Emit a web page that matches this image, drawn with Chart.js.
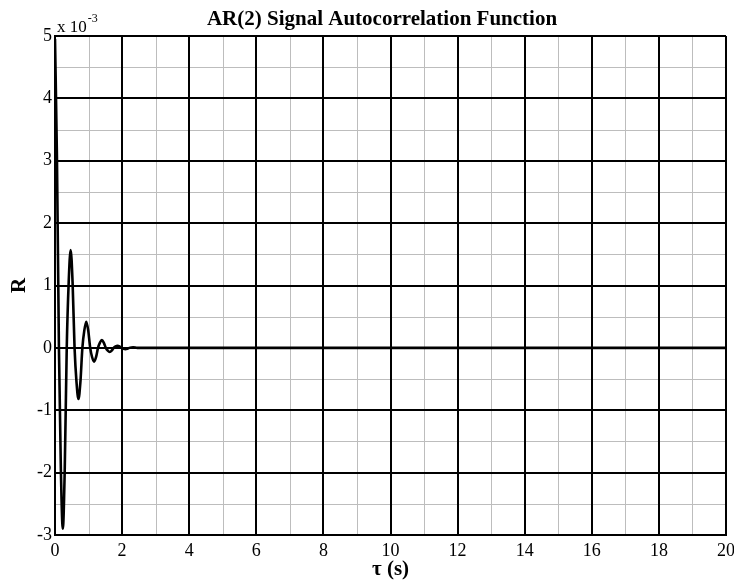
<!DOCTYPE html>
<html>
<head>
<meta charset="utf-8">
<script src="https://cdn.jsdelivr.net/npm/chart.js@4/dist/chart.umd.min.js"></script>
<style>
  html, body { margin: 0; padding: 0; background: #fff; }
  #wrap { width: 734px; height: 585px; }
</style>
</head>
<body>
<div id="wrap"><canvas id="acfChart" width="734" height="585"></canvas></div>
<script>
// lag (s) and autocorrelation R (x 10^-3)
const lags = [
  0.000, 0.058, 0.117, 0.175, 0.233, 0.291, 0.350, 0.408, 0.466, 0.524,
  0.583, 0.641, 0.699, 0.757, 0.816, 0.874, 0.932, 0.990, 1.049, 1.107,
  1.165, 1.223, 1.282, 1.340, 1.398, 1.456, 1.515, 1.573, 1.631, 1.689,
  1.748, 1.806, 1.864, 1.922, 1.981, 2.039, 2.097, 2.155, 2.214, 2.330,
  2.450, 20.0
];
const acf = [
  4.95, 3.05, 0, -1.95, -2.90, -1.93, 0, 1.05, 1.57, 1.05,
  0, -0.55, -0.82, -0.55, 0, 0.28, 0.42, 0.28, 0, -0.15,
  -0.22, -0.15, 0, 0.085, 0.125, 0.08, 0, -0.045, -0.065, -0.045,
  0, 0.025, 0.035, 0.025, 0, -0.014, -0.02, -0.014, 0, 0.01,
  0, 0
];

// axis ticks
const xMajor = [0, 2, 4, 6, 8, 10, 12, 14, 16, 18, 20];
const xMinor = [1, 3, 5, 7, 9, 11, 13, 15, 17, 19];
const yMajor = [-3, -2, -1, 0, 1, 2, 3, 4, 5];
const yMinor = [-2.5, -1.5, -0.5, 0.5, 1.5, 2.5, 3.5, 4.5];

const titleText = 'AR(2) Signal Autocorrelation Function';
const xLabel = '\u03c4 (s)';
const yLabel = 'R';

const serif = '"Liberation Serif", "Times New Roman", serif';

// grey minor grid under everything else
const minorGrid = {
  id: 'minorGrid',
  beforeDraw(chart) {
    const { ctx, chartArea: a, scales: { x, y } } = chart;
    ctx.save();
    ctx.strokeStyle = '#bdbdbd';
    ctx.lineWidth = 1;
    ctx.beginPath();
    xMinor.forEach(v => {
      const px = Math.round(x.getPixelForValue(v)) + 0.5;
      ctx.moveTo(px, a.top); ctx.lineTo(px, a.bottom);
    });
    yMinor.forEach(v => {
      const py = Math.round(y.getPixelForValue(v)) + 0.5;
      ctx.moveTo(a.left, py); ctx.lineTo(a.right, py);
    });
    ctx.stroke();
    ctx.restore();
  }
};

// title and the exponent label above the y axis
const headings = {
  id: 'headings',
  afterDraw(chart) {
    const { ctx, chartArea: a } = chart;
    ctx.save();
    ctx.fillStyle = '#000';
    ctx.textBaseline = 'alphabetic';
    ctx.textAlign = 'center';
    ctx.font = 'bold 21px ' + serif;
    ctx.fillText(titleText, 382, 25);
    ctx.textAlign = 'left';
    ctx.font = '17px ' + serif;
    const base = 'x 10';
    ctx.fillText(base, a.left + 2, 32);
    const w = ctx.measureText(base).width;
    ctx.font = '12px ' + serif;
    ctx.fillText('-3', a.left + 3 + w, 22);
    ctx.restore();
  }
};

new Chart(document.getElementById('acfChart'), {
  type: 'line',
  data: {
    datasets: [{
      data: lags.map((t, i) => ({ x: t, y: acf[i] })),
      borderColor: '#000',
      borderWidth: 2.6,
      pointRadius: 0,
      cubicInterpolationMode: 'monotone',
      fill: false
    }]
  },
  plugins: [minorGrid, headings],
  options: {
    responsive: false,
    animation: false,
    layout: { padding: { top: 36, right: 8, left: 0, bottom: 0 } },
    plugins: { legend: { display: false }, tooltip: { enabled: false } },
    scales: {
      x: {
        type: 'linear',
        min: 0, max: 20,
        afterBuildTicks: s => { s.ticks = xMajor.map(v => ({ value: v })); },
        afterFit: s => { s.height = 50; s.paddingLeft = 0; s.paddingRight = 0; },
        grid: { color: '#000', lineWidth: 2, drawTicks: false },
        border: { color: '#000', width: 2 },
        ticks: { color: '#000', padding: 5, maxRotation: 0, font: { family: serif, size: 18 } },
        title: {
          display: true, text: xLabel, color: '#000',
          padding: { top: 0, bottom: 3 },
          font: { family: serif, size: 21, weight: 'bold' }
        }
      },
      y: {
        type: 'linear',
        min: -3, max: 5,
        afterBuildTicks: s => { s.ticks = yMajor.map(v => ({ value: v })); },
        afterFit: s => { s.width = 55; s.paddingTop = 0; s.paddingBottom = 0; },
        grid: { color: '#000', lineWidth: 2, drawTicks: false },
        border: { color: '#000', width: 2 },
        ticks: { color: '#000', padding: 3, font: { family: serif, size: 18 } },
        title: {
          display: true, text: yLabel, color: '#000',
          padding: { top: 7, bottom: 0 },
          font: { family: serif, size: 21, weight: 'bold' }
        }
      }
    }
  }
});
</script>
</body>
</html>
